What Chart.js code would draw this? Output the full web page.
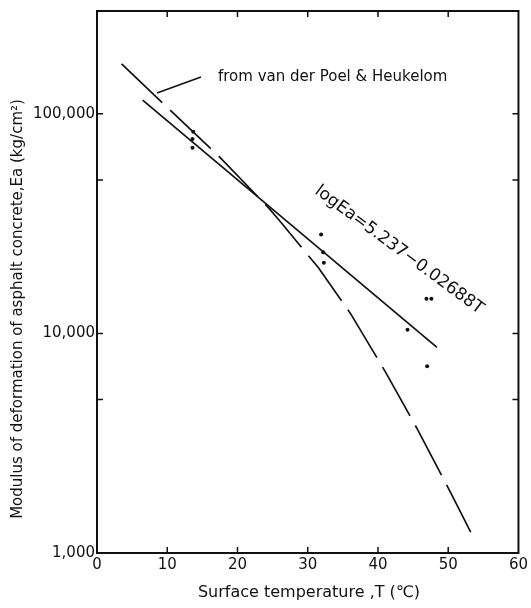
<!DOCTYPE html>
<html>
<head>
<meta charset="utf-8">
<script src="https://cdn.jsdelivr.net/npm/chart.js@4.4.0/dist/chart.umd.min.js"></script>
<style>
  html, body { margin: 0; padding: 0; background: #fff; }
  #wrap { width: 531px; height: 608px; position: relative; }
</style>
</head>
<body>
<div id="wrap"><canvas id="chartModulus"></canvas></div>
<script>
(function () {
  "use strict";

  // measured moduli: surface temperature (deg C) vs Ea (kg/cm2)
  const tempC   = [13.7, 13.6, 13.6, 31.9, 32.2, 32.3, 44.2, 46.9, 47.6, 47.0];
  const modulus = [82800, 76900, 70000, 28200, 23400, 21000, 10400, 14400, 14400, 7080];

  // fitted line logEa = 5.237 - 0.02688T, end points
  const fitT  = [6.5, 48.4];
  const fitEa = [115400, 8630];

  // curve after van der Poel & Heukelom
  const poelT  = [3.5, 17.4, 24.4, 26.0, 31.5, 36.1, 41.1, 45.7, 50.4, 53.2];
  const poelEa = [168700, 63800, 37400, 32600, 19950, 12300, 6650, 3620, 1870, 1245];

  const xTicks   = [0, 10, 20, 30, 40, 50, 60];
  const yTicks   = [1000, 5000, 10000, 50000, 100000];
  const yLabeled = [1000, 10000, 100000];

  const INK = "#111";
  const FONT = '"DejaVu Sans", sans-serif';

  function pts(xs, ys) { return xs.map((v, i) => ({ x: v, y: ys[i] })); }

  // frame, inward ticks and the free text
  const frame = {
    id: "frame",
    afterDraw(chart) {
      const { ctx, chartArea: a, scales: { x, y } } = chart;
      ctx.save();
      ctx.strokeStyle = INK;
      ctx.fillStyle = INK;
      ctx.lineWidth = 2;
      ctx.strokeRect(a.left, a.top, a.right - a.left, a.bottom - a.top);

      ctx.lineWidth = 1.5;
      ctx.beginPath();
      yTicks.slice(1).forEach(v => {
        const py = y.getPixelForValue(v);
        ctx.moveTo(a.left, py); ctx.lineTo(a.left + 6, py);
        ctx.moveTo(a.right - 6, py); ctx.lineTo(a.right, py);
      });
      xTicks.slice(1, -1).forEach(v => {
        const px = x.getPixelForValue(v);
        ctx.moveTo(px, a.bottom); ctx.lineTo(px, a.bottom - 6);
        ctx.moveTo(px, a.top); ctx.lineTo(px, a.top + 6);
      });
      // leader to the dashed curve
      ctx.moveTo(201, 77); ctx.lineTo(157, 93);
      ctx.stroke();

      ctx.textBaseline = "middle";
      ctx.font = "15px " + FONT;
      ctx.textAlign = "left";
      ctx.fillText("from van der Poel & Heukelom", 218, 77);

      ctx.textAlign = "center";
      ctx.font = "16px " + FONT;
      ctx.fillText("Surface temperature ,T (\u2103)", 309, 593);

      ctx.save();
      ctx.translate(18, 309);
      ctx.rotate(-Math.PI / 2);
      ctx.font = "15px " + FONT;
      ctx.fillText("Modulus of deformation of asphalt concrete,Ea (kg/cm\u00b2)", 0, 0);
      ctx.restore();

      ctx.save();
      ctx.translate(399, 250);
      ctx.rotate(36.4 * Math.PI / 180);
      ctx.font = "17px " + FONT;
      ctx.fillText("logEa=5.237\u22120.02688T", 0, 0);
      ctx.restore();

      ctx.restore();
    }
  };

  Chart.defaults.font.family = FONT;
  Chart.defaults.color = INK;

  new Chart(document.getElementById("chartModulus"), {
    type: "scatter",
    data: {
      datasets: [
        {
          label: "logEa fit",
          type: "line",
          data: pts(fitT, fitEa),
          borderColor: INK,
          borderWidth: 1.7,
          pointRadius: 0,
          fill: false,
        },
        {
          label: "van der Poel & Heukelom",
          type: "line",
          data: pts(poelT, poelEa),
          borderColor: INK,
          borderWidth: 1.7,
          borderDash: [56, 11],
          tension: 0,
          pointRadius: 0,
          fill: false,
        },
        {
          label: "measured",
          data: pts(tempC, modulus),
          backgroundColor: INK,
          borderColor: INK,
          pointRadius: 2,
          borderWidth: 0,
        },
      ],
    },
    options: {
      responsive: true,
      maintainAspectRatio: false,
      animation: false,
      layout: { padding: { top: 10, right: 9 } },
      plugins: { legend: { display: false }, tooltip: { enabled: false } },
      scales: {
        x: {
          type: "linear",
          min: 0,
          max: 60,
          afterBuildTicks: s => { s.ticks = xTicks.map(v => ({ value: v })); },
          afterFit: s => { s.height = 55; },
          grid: { display: false, drawTicks: false },
          border: { display: false },
          ticks: { padding: 3, font: { size: 15 }, maxRotation: 0 },
        },
        y: {
          type: "logarithmic",
          min: 1000,
          max: 294000,
          afterBuildTicks: s => { s.ticks = yTicks.map(v => ({ value: v })); },
          afterFit: s => { s.width = 97; },
          grid: { display: false, drawTicks: false },
          border: { display: false },
          ticks: {
            padding: 2,
            font: { size: 15 },
            callback: v => yLabeled.includes(v) ? v.toLocaleString("en-US") : "",
          },
        },
      },
    },
    plugins: [frame],
  });
})();
</script>
</body>
</html>
